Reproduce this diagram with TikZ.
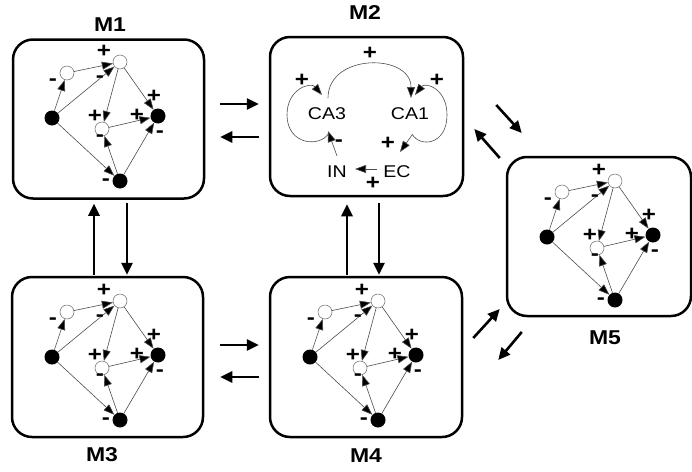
\documentclass[tikz,border=0pt]{standalone}
\usepackage{fontspec}
\setmainfont{Liberation Sans}
\newfontfamily\wsans[FakeStretch=1.15]{Liberation Sans}
\usetikzlibrary{arrows.meta,calc}
\tikzset{
  box/.style={draw, line width=2.5pt, rounded corners=20pt, minimum width=#1, minimum height=159pt, inner sep=0pt},
  bdot/.style={circle, fill=black, minimum size=15pt, inner sep=0pt},
  wdot/.style={circle, draw=black!60, line width=0.5pt, fill=white, minimum size=14pt, inner sep=0pt},
  ed/.style={draw=black!70, line width=0.6pt, -{Triangle[length=11pt,width=8pt,fill=black]}},
  sgn/.style={font=\wsans\bfseries\fontsize{21}{21}\selectfont, inner sep=0pt},
  ttl/.style={font=\wsans\bfseries\fontsize{20}{20}\selectfont, inner sep=0pt},
  lbl/.style={font=\wsans\fontsize{17}{17}\selectfont, inner sep=0pt},
  big/.style={line width=2.6pt, -{Triangle[length=12pt,width=11pt]}}
}
\newcommand\netg[3]{%
\begin{scope}[shift={(#2,#3)}]
  \node[bdot] (#1a) at (0,0) {};
  \node[wdot] (#1b) at (15,-45) {};
  \node[wdot] (#1c) at (68,-56) {};
  \node[wdot] (#1d) at (50,11) {};
  \node[bdot] (#1e) at (106,-2) {};
  \node[bdot] (#1f) at (68,63) {};
  \draw[ed] (#1a) -- (#1b);
  \draw[ed] (#1b) -- (#1c);
  \draw[ed] (#1a) -- (#1c);
  \draw[ed] (#1c) -- (#1d);
  \draw[ed] (#1c) -- (#1e);
  \draw[ed] (#1d) -- (#1e);
  \draw[ed] (#1f) -- (#1d);
  \draw[ed] (#1f) -- (#1e);
  \draw[ed] (#1a) -- (#1f);
  \node[sgn] at (1,-36) {-};
  \node[sgn] at (52,-67) {+};
  \node[sgn] at (48,-39) {-};
  \node[sgn] at (43,-2) {+};
  \node[sgn] at (102,-22) {+};
  \node[sgn] at (85,-3) {+};
  \node[sgn] at (48,20) {-};
  \node[sgn] at (108,16) {-};
  \node[sgn] at (54,64) {-};
\end{scope}}
\begin{document}
\begin{tikzpicture}[x=1pt,y=-1pt]
\useasboundingbox (0,0) rectangle (692,471);
% boxes
\node[box=191pt] (m1) at (108.5,119) {};
\node[box=193pt] (m2) at (366.5,116.5) {};
\node[box=191pt, minimum height=160pt] (m3) at (107.5,357) {};
\node[box=192pt, minimum height=160pt] (m4) at (366,357) {};
\node[box=184pt] (m5) at (599,236.5) {};
% titles
\node[ttl] (t1) at (110,25) {M1};
\node[ttl] (t2) at (365,13) {M2};
\node[ttl] (t3) at (102,455) {M3};
\node[ttl] (t4) at (366,456) {M4};
\node[ttl] (t5) at (605,338) {M5};
% networks
\netg{p1}{52}{118}
\netg{p3}{52}{357}
\netg{p4}{310}{357}
\netg{p5}{547}{237}
% M2 internals
\node[lbl] (ca3) at (327,114) {CA3};
\node[lbl] (ca1) at (410,114) {CA1};
\node[lbl] (in) at (337,172) {IN};
\node[lbl] (ec) at (397,172) {EC};
\draw[ed] ($(ca3)+(1,-16)$) .. controls +(0,-45) and +(0,-45) .. ($(ca1)+(1,-16)$);
\draw[ed] ($(ca3)+(2,19)$) .. controls +(-9,15) and +(0,30) .. ($(ca3)+(-40,1)$)
          .. controls +(0,-27) and +(-11,-13) .. ($(ca3)+(-5,-19)$);
\draw[ed] ($(ca1)+(2,20)$) .. controls +(8,14) and +(0,30) .. ($(ca1)+(37,1)$)
          .. controls +(0,-27) and +(10,-13) .. ($(ca1)+(5,-19)$);
\draw[ed] ($(ca1)+(2,21)$) -- ($(ec)+(3,-20)$);
\draw[ed] ($(ec)+(-20,-3)$) -- ($(in)+(18,-3)$);
\draw[ed] ($(in)+(0,-16)$) -- ($(ca3)+(1,17)$);
\node[sgn] at (370,53) {+};
\node[sgn] at (302,80) {+};
\node[sgn] at (437,80) {+};
\node[sgn] at (339,143) {-};
\node[sgn] at (388,143) {+};
\node[sgn] at (373,183) {+};
% inter-box arrows
\draw[big] ($(m1.east)+(15,-15)$) -- ($(m2.west)+(-10,-12.5)$);
\draw[big] ($(m2.west)+(-10,20.5)$) -- ($(m1.east)+(15,18)$);
\draw[big] ($(m3.east)+(16,-12)$) -- ($(m4.west)+(-10,-12)$);
\draw[big] ($(m4.west)+(-10,20)$) -- ($(m3.east)+(16,20)$);
\draw[big] ($(m3.north)+(-13.5,-1)$) -- ($(m1.south)+(-14.5,4)$);
\draw[big] ($(m1.south)+(18.5,3)$) -- ($(m3.north)+(19.5,-1)$);
\draw[big] ($(m4.north)+(-19,-1)$) -- ($(m2.south)+(-19.5,7)$);
\draw[big] ($(m2.south)+(12.5,6)$) -- ($(m4.north)+(13,-1)$);
\draw[big] ($(m2.east)+(32,-11.5)$) -- ($(m5.west)+(16,-103.5)$);
\draw[big] ($(m5.west)+(-6,-78.5)$) -- ($(m2.east)+(10,12.5)$);
\draw[big] ($(m4.east)+(10,-19)$) -- ($(m5.west)+(-6,72.5)$);
\draw[big] ($(m5.west)+(16,95.5)$) -- ($(m4.east)+(35,3)$);
\end{tikzpicture}
\end{document}
